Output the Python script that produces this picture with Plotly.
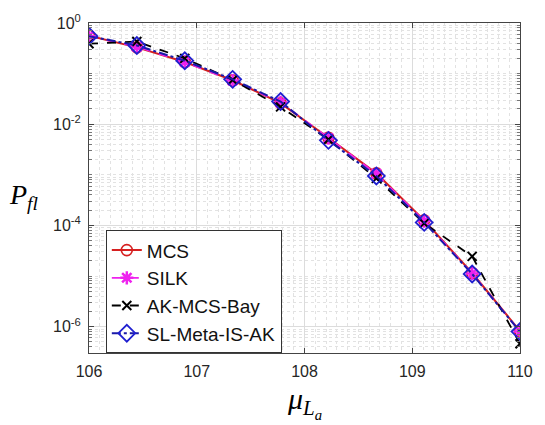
import numpy as np
import plotly.graph_objects as go

mu = [106.0, 106.444, 106.889, 107.333, 107.778, 108.222, 108.667, 109.111, 109.556, 110.0]
pf_mcs = [0.56, 0.33, 0.17, 0.074, 0.026, 0.0054, 0.00107, 1.26e-4, 1.15e-5, 8.2e-7]
pf_silk = [0.55, 0.34, 0.17, 0.073, 0.027, 0.0053, 0.00105, 1.22e-4, 1.12e-5, 8.0e-7]
pf_akbay = [0.39, 0.43, 0.20, 0.075, 0.022, 0.0050, 0.00085, 1.10e-4, 2.45e-5, 4.6e-7]
pf_slmeta = [0.55, 0.36, 0.18, 0.077, 0.028, 0.0048, 0.00095, 1.15e-4, 1.10e-5, 8.0e-7]

x_ticks = [106, 107, 108, 109, 110]
y_ticks = [1, 1e-2, 1e-4, 1e-6]
y_ticktext = ["10<sup>0</sup>", "10<sup>-2</sup>", "10<sup>-4</sup>", "10<sup>-6</sup>"]

fig = go.Figure()
fig.add_trace(go.Scatter(x=mu, y=pf_mcs, name="MCS", mode="lines+markers",
    line=dict(color="#d62020", width=2),
    marker=dict(symbol="circle-open", size=11, color="#d62020", line=dict(width=1.6))))
fig.add_trace(go.Scatter(x=mu, y=pf_silk, name="SILK", mode="lines+markers",
    line=dict(color="#ee22ee", width=1.8, dash="dash"),
    marker=dict(symbol="asterisk-open", size=11, color="#ee22ee", line=dict(width=2.5, color="#ee22ee"))))
fig.add_trace(go.Scatter(x=mu, y=pf_akbay, name="AK-MCS-Bay", mode="lines+markers",
    line=dict(color="black", width=1.8, dash="dash"),
    marker=dict(symbol="x-thin-open", size=9, color="black", line=dict(width=2, color="black"))))
fig.add_trace(go.Scatter(x=mu, y=pf_slmeta, name="SL-Meta-IS-AK", mode="lines+markers",
    line=dict(color="#1a1aa8", width=2, dash="dashdot"),
    marker=dict(symbol="diamond-open", size=13, color="#2020d0", line=dict(width=1.8, color="#2020d0"))))

minor_y = [k * 10.0**e for e in range(-7, 1) for k in range(1, 10) if not (k == 1 and e % 2 == 0)]

fig.update_layout(
    width=545, height=425,
    margin=dict(l=89, r=16, t=20, b=72),
    paper_bgcolor="white", plot_bgcolor="white",
    font=dict(family="Liberation Sans, Arial", size=16, color="#262626"),
    showlegend=True,
    legend=dict(x=0.039, y=0.372, xanchor="left", yanchor="top",
                bgcolor="white", bordercolor="#333333", borderwidth=1,
                font=dict(size=19, color="#111111"), tracegroupgap=0,
                entrywidth=165, entrywidthmode="pixels"),
    xaxis=dict(range=[106, 110], tickvals=x_ticks, ticks="inside", ticklen=5,
               tickcolor="#444", showline=True, linecolor="#444", linewidth=1, mirror="allticks",
               showgrid=True, gridcolor="#dcdcdc", gridwidth=1, zeroline=False,
               ticklabelstandoff=4,
               minor=dict(dtick=0.1, tick0=106, showgrid=True, gridcolor="#e2e2e2", griddash="dot", ticks="")),
    yaxis=dict(type="log", range=[-6.52, 0], tickvals=y_ticks, ticktext=y_ticktext,
               ticks="inside", ticklen=5, tickcolor="#444", showline=True, linecolor="#444",
               linewidth=1, mirror="allticks", showgrid=True, gridcolor="#dcdcdc", gridwidth=1,
               zeroline=False, ticklabelstandoff=4,
               minor=dict(tickvals=minor_y, showgrid=True, gridcolor="#e2e2e2", griddash="dot",
                          ticks="inside", ticklen=3, tickcolor="#777")),
    annotations=[
        dict(text="<i>P</i><sub><i>fl</i></sub>", x=-0.15, y=0.474, xref="paper", yref="paper",
             showarrow=False, xanchor="center", yanchor="middle",
             font=dict(family="Liberation Serif, Times New Roman", size=28, color="black")),
        dict(text="<i>μ</i><sub><i>L<sub>a</sub></i></sub>", x=0.5, y=-0.15, xref="paper", yref="paper",
             showarrow=False, xanchor="center", yanchor="middle",
             font=dict(family="Liberation Serif, Times New Roman", size=30, color="black")),
    ],
)
fig.write_html("out.html")
